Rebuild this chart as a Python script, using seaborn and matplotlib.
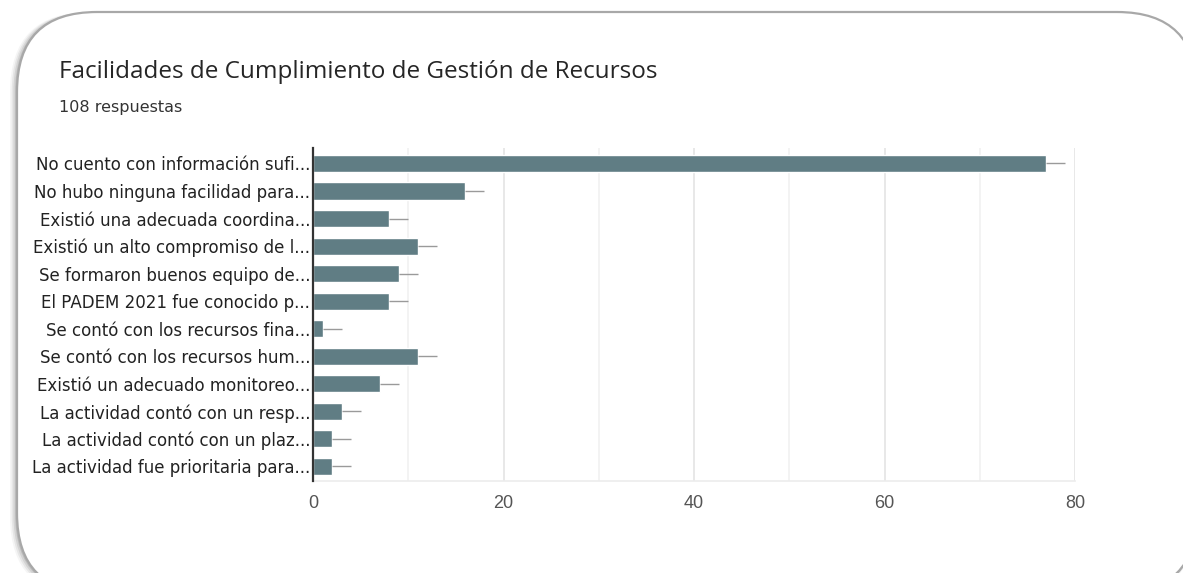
import numpy as np
import pandas as pd
import matplotlib
matplotlib.use("Agg")
import matplotlib.pyplot as plt
import seaborn as sns
from matplotlib.patches import FancyBboxPatch
from matplotlib.transforms import IdentityTransform
from matplotlib.ticker import MultipleLocator

categories = [
    "No cuento con información sufi...",
    "No hubo ninguna facilidad para...",
    "Existió una adecuada coordina...",
    "Existió un alto compromiso de l...",
    "Se formaron buenos equipo de...",
    "El PADEM 2021 fue conocido p...",
    "Se contó con los recursos fina...",
    "Se contó con los recursos hum...",
    "Existió un adecuado monitoreo...",
    "La actividad contó con un resp...",
    "La actividad contó con un plaz...",
    "La actividad fue prioritaria para...",
]
values = [77, 16, 8, 11, 9, 8, 1, 11, 7, 3, 2, 2]
err_upper = [2, 2, 2, 2, 2, 2, 2, 2, 2, 2, 2, 2]
x_ticks = [0, 20, 40, 60, 80]
title = "Facilidades de Cumplimiento de Gestión de Recursos"
subtitle = "108 respuestas"

df = pd.DataFrame({"categoria": categories, "respuestas": values})

sns.set_theme(style="white")
plt.rcParams["font.family"] = ["Liberation Sans", "DejaVu Sans"]

W, H = 1183, 573
fig = plt.figure(figsize=(W / 100, H / 100), dpi=100)
fig.patch.set_facecolor("white")

# card with soft shadow
for i, a in enumerate([0.04, 0.06, 0.08, 0.11]):
    off = 7 - i * 1.7
    sh = FancyBboxPatch((17 - off, -20 - off * 0.5), 1180 + off, 581 + off * 0.5,
                        boxstyle="round,pad=0,rounding_size=80",
                        transform=IdentityTransform(), facecolor="black",
                        edgecolor="none", alpha=a, zorder=0)
    fig.patches.append(sh)
card = FancyBboxPatch((17, -20), 1180, 581,
                      boxstyle="round,pad=0,rounding_size=80",
                      transform=IdentityTransform(), facecolor="white",
                      edgecolor="#a8a8a8", linewidth=1.6, zorder=1)
fig.patches.append(card)

ax = fig.add_axes([313 / W, (H - 481) / H, (1075 - 313) / W, (481 - 148) / H])
ax.set_facecolor("none")
ax.set_zorder(3)

sns.barplot(data=df, y="categoria", x="respuestas", orient="h", color="#607d84",
            saturation=1, width=0.62, errorbar=None, ax=ax, zorder=3)
ypos = np.arange(len(categories))
ax.errorbar(values, ypos, xerr=[np.zeros(len(values)), err_upper], fmt="none",
            ecolor="#9a9a9a", elinewidth=1.0, capsize=0, zorder=4)

ax.set_xlim(0, 80)
ax.set_ylim(11.53, -0.56)
ax.set_xticks(x_ticks)
ax.xaxis.set_minor_locator(MultipleLocator(10))
ax.grid(axis="x", which="major", color="#e4e4e4", linewidth=1.2, zorder=0)
ax.grid(axis="x", which="minor", color="#f1f1f1", linewidth=1.2, zorder=0)
ax.grid(axis="y", visible=False)
ax.set_axisbelow(True)

ax.spines["top"].set_visible(False)
ax.spines["right"].set_visible(False)
ax.spines["bottom"].set_color("#ececec")
ax.spines["bottom"].set_linewidth(1.2)
ax.spines["left"].set_color("#333333")
ax.spines["left"].set_linewidth(1.6)
ax.spines["left"].set_zorder(5)

ax.set_xlabel("")
ax.set_ylabel("")
ax.tick_params(axis="x", which="both", length=0, pad=10, labelsize=13, labelcolor="#555555")
ax.tick_params(axis="y", length=0, pad=2, labelsize=12, labelcolor="#222222")
for lab in ax.get_yticklabels():
    lab.set_family(["DejaVu Sans"])

fig.text(59 / W, (H - 78) / H, title, fontsize=17.5, color="#262626",
         family=["Open Sans", "DejaVu Sans"], va="baseline", ha="left", zorder=5)
fig.text(59 / W, (H - 112) / H, subtitle, fontsize=11.5, color="#333333",
         family=["DejaVu Sans"], va="baseline", ha="left", zorder=5)

fig.savefig("out.png", dpi=100, facecolor="white")
